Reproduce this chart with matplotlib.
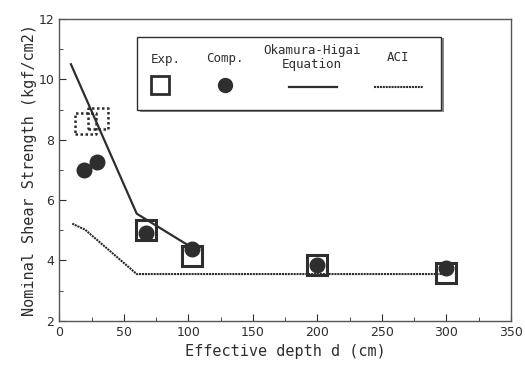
import numpy as np
import matplotlib
matplotlib.use("Agg")
import matplotlib.pyplot as plt
from matplotlib.patches import Rectangle
from matplotlib.lines import Line2D

# data
oh_d = [9, 60, 100]              # Okamura-Higai equation
oh_v = [10.5, 5.55, 4.5]
aci_d = [10, 20, 60, 300]        # ACI
aci_v = [5.22, 5.02, 3.55, 3.55]
exp_d = [67, 103, 200, 300]      # Exp.
exp_v = [5.0, 4.15, 3.85, 3.58]
exp_dot_d = [20, 30]             # Exp. (dotted boxes)
exp_dot_v = [8.55, 8.7]
comp_d = [19.5, 29, 67.5, 103, 200, 300]   # Comp.
comp_v = [7.0, 7.25, 4.9, 4.37, 3.85, 3.74]

ink = '#2e2e2e'
mono = 'DejaVu Sans Mono'
aci_ls = (0, (1, 0.4))

fig = plt.figure(figsize=(5.25, 3.65), dpi=100)
ax = fig.add_axes([0.113, 0.121, 0.86, 0.827])

ax.plot(aci_d, aci_v, color=ink, lw=1.5, ls=aci_ls, zorder=2)
ax.plot(oh_d, oh_v, color=ink, lw=1.6, zorder=2)
ax.plot(comp_d, comp_v, 'o', ms=10.5, color=ink, zorder=3)
ax.plot(exp_d, exp_v, 's', ms=14, mfc='none', mec=ink, mew=2.2, zorder=4)
# the two early boxes are drawn with dotted edges
ax.scatter(exp_dot_d, exp_dot_v, s=15**2, marker='s', facecolors='none',
           edgecolors=ink, linewidths=1.8, linestyles=(0, (1, 1)), zorder=4)

ax.set_xlim(0, 350)
ax.set_ylim(2, 12)
ax.set_xticks(np.arange(0, 351, 50))
ax.set_xticks(np.arange(0, 351, 25), minor=True)
ax.set_yticks(np.arange(2, 13, 2))
ax.set_yticks(np.arange(2, 13, 1), minor=True)
ax.tick_params(which='both', direction='in', top=False, right=False,
               colors=ink, labelsize=9)
ax.tick_params(which='major', length=5)
ax.tick_params(which='minor', length=3)
for s in ax.spines.values():
    s.set_color('#555555')
    s.set_linewidth(1.0)

ax.set_xlabel('Effective depth d (cm)', family=mono, fontsize=11, color=ink)
ax.set_ylabel('Nominal Shear Strength (kgf/cm2)', family=mono, fontsize=11,
              color=ink, labelpad=1)

# legend box drawn by hand
tr = ax.transAxes
ax.add_patch(Rectangle((0.173, 0.700), 0.673, 0.241, transform=tr,
                       fc='white', ec=ink, lw=1.0, zorder=7))
ax.add_patch(Rectangle((0.178, 0.692), 0.673, 0.008, transform=tr,
                       fc='#888888', ec='none', zorder=6))
ax.add_patch(Rectangle((0.846, 0.692), 0.005, 0.244, transform=tr,
                       fc='#888888', ec='none', zorder=6))
ax.text(0.235, 0.865, 'Exp.', transform=tr, family=mono, fontsize=9,
        color=ink, ha='center', va='center', zorder=8)
ax.text(0.367, 0.868, 'Comp.', transform=tr, family=mono, fontsize=9,
        color=ink, ha='center', va='center', zorder=8)
ax.text(0.560, 0.872, 'Okamura-Higai\nEquation', transform=tr, family=mono,
        fontsize=9, color=ink, ha='center', va='center', linespacing=1.1,
        zorder=8)
ax.text(0.750, 0.872, 'ACI', transform=tr, family=mono, fontsize=9,
        color=ink, ha='center', va='center', zorder=8)
ax.add_line(Line2D([0.223], [0.78], marker='s', ms=13, mfc='none', mec=ink,
                   mew=2.0, transform=tr, zorder=8))
ax.add_line(Line2D([0.367], [0.782], marker='o', ms=10, color=ink,
                   transform=tr, zorder=8))
ax.add_line(Line2D([0.508, 0.614], [0.776, 0.776], color=ink, lw=1.6,
                   transform=tr, zorder=8))
ax.add_line(Line2D([0.698, 0.806], [0.776, 0.776], color=ink, lw=1.5,
                   ls=aci_ls, transform=tr, zorder=8))

fig.savefig('out.png', dpi=100)
